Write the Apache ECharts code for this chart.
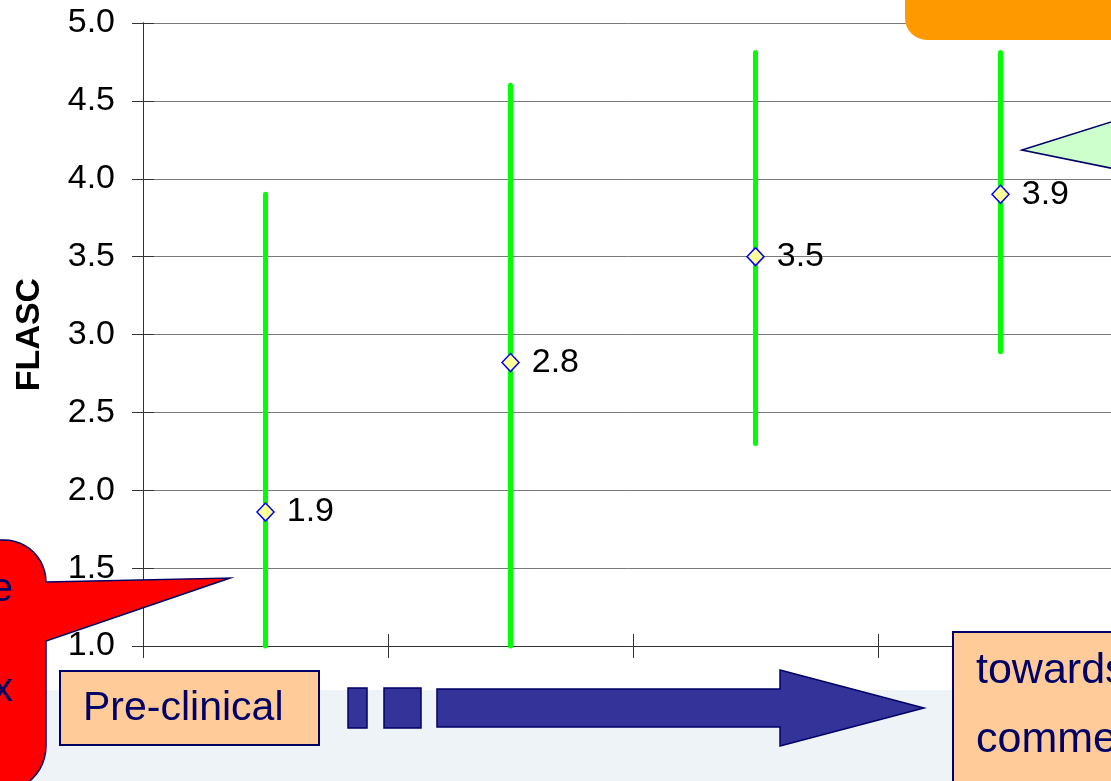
<!DOCTYPE html>
<html>
<head>
<meta charset="utf-8">
<title>FLASC</title>
<script src="https://cdn.jsdelivr.net/npm/echarts@6/dist/echarts.min.js"></script>
<style>
  html, body { margin: 0; padding: 0; background: #ffffff; }
  #chart { width: 1111px; height: 781px; }
</style>
</head>
<body>
<div id="chart"></div>
<script>
// Stages along the x axis (labels are not shown)
const categories = ['1', '2', '3', '4'];
// Mean FLASC score per stage
const means = [1.86, 2.82, 3.50, 3.90];
// Range of the scores per stage
const lows = [1.0, 1.0, 2.30, 2.89];
const highs = [3.90, 4.60, 4.81, 4.81];
// Y axis ticks
const yMin = 1.0, yMax = 5.0, yStep = 0.5;

const NAVY = '#000066';
const FONT = 'Liberation Sans, Arial, sans-serif';

// points along a quarter circle, used for the rounded callout outline
function arcPoints(cx, cy, r, a0, a1, n) {
  const pts = [];
  for (let k = 0; k <= n; k++) {
    const a = a0 + (a1 - a0) * k / n;
    pts.push([cx + r * Math.cos(a), cy + r * Math.sin(a)]);
  }
  return pts;
}
const calloutPoints = [].concat(
  [[-80, 540]],
  arcPoints(4, 582, 42, -Math.PI / 2, 0, 12),
  [[230, 578], [46, 641]],
  arcPoints(0, 746, 46, 0, Math.PI / 2, 12),
  [[-80, 792]]
);

const chart = echarts.init(document.getElementById('chart'), null, { renderer: 'canvas' });

const xBase = {
  type: 'category',
  data: categories,
  boundaryGap: true,
  axisLabel: { show: false },
  splitLine: { show: false },
  axisLine: { show: true, lineStyle: { color: '#333333', width: 1 } }
};
const yBase = {
  type: 'value',
  min: yMin, max: yMax, interval: yStep,
  axisLine: { show: true, lineStyle: { color: '#333333', width: 1 } }
};

const option = {
  backgroundColor: '#ffffff',
  animation: false,
  // the plot runs a little past the right edge of the page
  grid: { left: 143, top: 23, right: -12, bottom: 135, containLabel: false, outerBoundsMode: 'none' },
  xAxis: [
    Object.assign({}, xBase, {
      axisTick: { show: true, inside: false, length: 12, lineStyle: { color: '#333333' } }
    }),
    Object.assign({}, xBase, {
      position: 'bottom',
      axisTick: { show: true, inside: true, length: 12, lineStyle: { color: '#333333' } }
    })
  ],
  yAxis: [
    Object.assign({}, yBase, {
      name: 'FLASC',
      nameLocation: 'middle',
      nameGap: 96,
      nameTextStyle: { fontFamily: FONT, fontWeight: 'bold', fontSize: 34, color: '#000000' },
      axisTick: { show: true, inside: false, length: 11, lineStyle: { color: '#333333' } },
      axisLabel: {
        margin: 28,
        fontFamily: FONT, fontSize: 34, color: '#000000',
        formatter: v => v.toFixed(1)
      },
      splitLine: { show: true, lineStyle: { color: '#7a7a7a', width: 1 } }
    }),
    Object.assign({}, yBase, {
      position: 'left',
      axisTick: { show: true, inside: true, length: 11, lineStyle: { color: '#333333' } },
      axisLabel: { show: false },
      splitLine: { show: false }
    })
  ],
  series: [
    {
      // Vertical range bars
      type: 'custom',
      xAxisIndex: 0, yAxisIndex: 0,
      data: categories.map((c, i) => [i, lows[i], highs[i]]),
      renderItem: (params, api) => {
        const p1 = api.coord([api.value(0), api.value(1)]);
        const p2 = api.coord([api.value(0), api.value(2)]);
        return {
          type: 'line',
          shape: { x1: p1[0], y1: p1[1], x2: p2[0], y2: p2[1] },
          style: { stroke: '#00ff00', lineWidth: 5, lineCap: 'round' }
        };
      },
      z: 2
    },
    {
      // Mean markers with value labels
      type: 'scatter',
      xAxisIndex: 0, yAxisIndex: 0,
      data: means.map((m, i) => [i, m]),
      symbol: 'diamond',
      symbolSize: [17, 18],
      itemStyle: { color: '#ffff99', borderColor: '#0000ff', borderWidth: 1.5, opacity: 1 },
      label: {
        show: true,
        position: 'right',
        distance: 12,
        fontFamily: FONT, fontSize: 34, color: '#000000',
        formatter: p => p.value[1].toFixed(1)
      },
      z: 3
    }
  ],
  graphic: [
    // pale band along the bottom
    { type: 'rect', z: 10, shape: { x: 0, y: 690, width: 1111, height: 100 }, style: { fill: '#eef3f8' } },
    // stage box on the left
    { type: 'rect', z: 20, shape: { x: 60, y: 671, width: 259, height: 74 },
      style: { fill: '#ffcc99', stroke: NAVY, lineWidth: 2 } },
    { type: 'text', z: 21, x: 83, y: 709,
      style: { text: 'Pre-clinical', font: '41px ' + FONT, fill: NAVY, verticalAlign: 'middle', align: 'left' } },
    // progress arrow
    { type: 'rect', z: 20, shape: { x: 348, y: 688, width: 19, height: 40 },
      style: { fill: '#333399', stroke: NAVY, lineWidth: 1.5 } },
    { type: 'rect', z: 20, shape: { x: 384, y: 688, width: 37, height: 40 },
      style: { fill: '#333399', stroke: NAVY, lineWidth: 1.5 } },
    { type: 'polygon', z: 20,
      shape: { points: [[437, 689], [780, 689], [780, 670], [924, 708], [780, 746], [780, 727], [437, 727]] },
      style: { fill: '#333399', stroke: NAVY, lineWidth: 1.5 } },
    // stage box on the right
    { type: 'rect', z: 20, shape: { x: 953, y: 632, width: 220, height: 200 },
      style: { fill: '#ffcc99', stroke: NAVY, lineWidth: 2 } },
    { type: 'text', z: 21, x: 976, y: 671,
      style: { text: 'towards', font: '43px ' + FONT, fill: NAVY, verticalAlign: 'middle', align: 'left' } },
    { type: 'text', z: 21, x: 976, y: 740,
      style: { text: 'commercial', font: '43px ' + FONT, fill: NAVY, verticalAlign: 'middle', align: 'left' } },
    // red callout on the left
    { type: 'polygon', z: 30,
      shape: { points: calloutPoints },
      style: { fill: '#ff0000', stroke: NAVY, lineWidth: 1.5 } },
    { type: 'text', z: 31, x: 13, y: 590,
      style: { text: 'e', font: '41px ' + FONT, fill: NAVY, verticalAlign: 'middle', align: 'right' } },
    { type: 'text', z: 31, x: 13, y: 690,
      style: { text: 'x', font: '41px ' + FONT, fill: NAVY, verticalAlign: 'middle', align: 'right' } },
    // orange banner at the top right
    { type: 'rect', z: 30, shape: { x: 905, y: -40, width: 300, height: 80, r: 22 },
      style: { fill: '#ff9900' } },
    // green pointer at the right
    { type: 'polygon', z: 30,
      shape: { points: [[1022, 150], [1130, 116], [1130, 172]] },
      style: { fill: '#ccffcc', stroke: NAVY, lineWidth: 1.5 } }
  ]
};

chart.setOption(option);
</script>
</body>
</html>
